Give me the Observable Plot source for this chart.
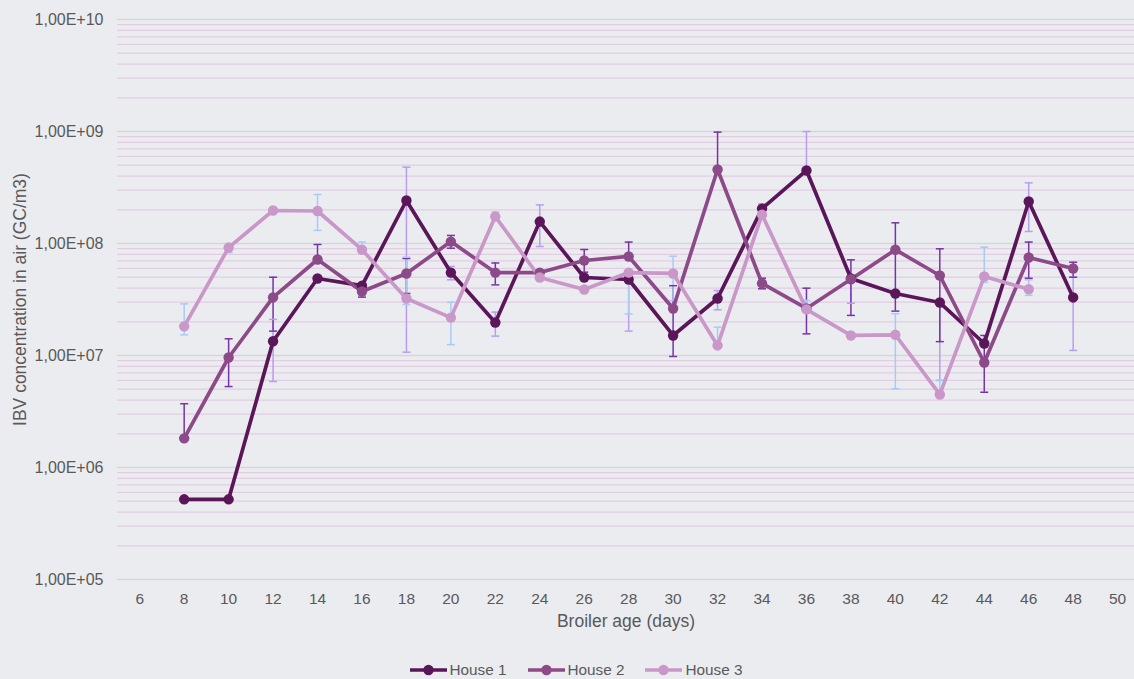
<!DOCTYPE html>
<html>
<head>
<meta charset="utf-8">
<script src="https://cdn.jsdelivr.net/npm/d3@7"></script>
<script src="https://cdn.jsdelivr.net/npm/@observablehq/plot@0.6"></script>
<style>
  html, body { margin: 0; padding: 0; background: #ebecf0; }
  body { width: 1134px; height: 679px; overflow: hidden; font-family: "Liberation Sans", Arial, sans-serif; }
  #chart svg { display: block; }
  #legend { display: flex; justify-content: center; align-items: center; height: 30px; padding-left: 18px; font-size: 15.3px; color: #595959; }
  .item { display: flex; align-items: center; margin-right: 21px; }
  .item:last-child { margin-right: 0; }
  .item svg { margin-right: 3px; display: block; }
</style>
</head>
<body>
<div id="chart"></div>
<div id="legend"></div>
<script>
// ---- Data ----
const days = [8, 10, 12, 14, 16, 18, 20, 22, 24, 26, 28, 30, 32, 34, 36, 38, 40, 42, 44, 46, 48];
const seriesNames = ["House 1", "House 2", "House 3"];
const seriesColors = ["#5a1658", "#8c4a88", "#c998c9"];
const errorColors = ["#b89df0", "#7634a6", "#a9caf7"];

const house1 = [5.2e5, 5.2e5, 1.34e7, 4.87e7, 4.2e7, 2.42e8, 5.5e7, 1.97e7, 1.57e8, 4.97e7, 4.77e7, 1.51e7, 3.23e7, 2.05e8, 4.49e8, 4.87e7, 3.58e7, 2.97e7, 1.28e7, 2.37e8, 3.3e7];
const house2 = [1.82e6, 9.6e6, 3.3e7, 7.2e7, 3.73e7, 5.4e7, 1.04e8, 5.5e7, 5.5e7, 7.05e7, 7.66e7, 2.63e7, 4.58e8, 4.4e7, 2.63e7, 4.8e7, 8.8e7, 5.18e7, 8.66e6, 7.5e7, 5.98e7];
const house3 = [1.82e7, 9.2e7, 1.97e8, 1.95e8, 8.8e7, 3.23e7, 2.18e7, 1.74e8, 4.97e7, 3.88e7, 5.5e7, 5.4e7, 1.23e7, 1.81e8, 2.58e7, 1.51e7, 1.53e7, 4.49e6, 5.07e7, 3.9e7, null];

// error bar ends (upper / lower); null = not visible
const house1Hi = [null, null, 2.1e7, null, null, 4.8e8, 6.24e7, 2.44e7, 2.21e8, null, 5.6e7, null, 3.8e7, 2.26e8, 1.0e9, null, null, null, null, 3.48e8, 5.0e7];
const house1Lo = [null, null, 5.86e6, null, null, 1.07e7, 4.74e7, 1.49e7, 9.4e7, null, 1.65e7, null, 2.56e7, null, null, 2.93e7, null, 6.0e6, null, 1.28e8, 1.11e7];
const house2Hi = [3.71e6, 1.41e7, 5.0e7, 9.8e7, null, 7.35e7, 1.18e8, 6.7e7, null, 8.84e7, 1.03e8, 4.2e7, 9.87e8, 4.9e7, 3.99e7, 7.15e7, 1.53e8, 8.97e7, 1.51e7, 1.03e8, 6.8e7];
const house2Lo = [null, 5.28e6, 1.65e7, null, 3.32e7, 3.58e7, 9.08e7, 4.27e7, null, 5.55e7, null, 9.8e6, null, 3.94e7, 1.56e7, 2.28e7, 2.49e7, 1.33e7, 4.7e6, 4.9e7, 5.0e7];
const house3Hi = [2.89e7, null, null, 2.74e8, 1.03e8, 7.55e7, 2.99e7, 1.91e8, null, null, null, 7.7e7, 1.79e7, null, 3.1e7, null, 2.36e7, 5.98e6, 9.27e7, 4.74e7, null];
const house3Lo = [1.53e7, 8.3e7, null, 1.31e8, null, 2.85e7, 1.25e7, null, null, null, 2.35e7, 3.1e7, null, null, null, null, 5.05e6, null, 4.5e7, 3.44e7, null];

const xTicks = [6, 8, 10, 12, 14, 16, 18, 20, 22, 24, 26, 28, 30, 32, 34, 36, 38, 40, 42, 44, 46, 48, 50];
const yDecades = [1e5, 1e6, 1e7, 1e8, 1e9, 1e10];

// ---- Build tables ----
const values = [house1, house2, house3];
const his = [house1Hi, house2Hi, house3Hi];
const los = [house1Lo, house2Lo, house3Lo];

const points = [];
const errs = [];
const caps = [];
seriesNames.forEach((name, s) => {
  days.forEach((day, i) => {
    const v = values[s][i];
    if (v == null) return;
    points.push({day, value: v, series: name});
    const hi = his[s][i], lo = los[s][i];
    if (hi != null || lo != null) {
      errs.push({day, y1: lo != null ? lo : v, y2: hi != null ? hi : v, color: errorColors[s]});
      if (hi != null) caps.push({day, y: hi, color: errorColors[s]});
      if (lo != null) caps.push({day, y: lo, color: errorColors[s]});
    }
  });
});

const minorTicks = [];
for (let e = 5; e < 10; e++) for (let k = 2; k <= 9; k++) minorTicks.push(k * Math.pow(10, e));

const capSymbol = {
  draw(context, size) {
    context.moveTo(-4, 0);
    context.lineTo(4, 0);
  }
};

const fmt = d => "1,00E+" + String(Math.round(Math.log10(d))).padStart(2, "0");

const chart = Plot.plot({
  width: 1134,
  height: 655,
  marginLeft: 117,
  marginRight: 0,
  marginTop: 19,
  marginBottom: 76,
  style: {background: "#ebecf0", fontFamily: "'Liberation Sans', Arial, sans-serif", color: "#595959"},
  x: {type: "linear", domain: [5, 50.76]},
  y: {type: "log", domain: [1e5, 1e10]},
  color: {domain: seriesNames, range: seriesColors},
  marks: [
    Plot.ruleY(minorTicks, {stroke: "#e3cde3", strokeWidth: 1.3}),
    Plot.ruleY(yDecades, {stroke: "#d6d6d8", strokeWidth: 1.3}),
    Plot.ruleX(errs, {x: "day", y1: "y1", y2: "y2", stroke: "color", strokeWidth: 1.5}),
    Plot.dot(caps, {x: "day", y: "y", stroke: "color", strokeWidth: 1.5, symbol: capSymbol, fill: "none"}),
    Plot.line(points, {x: "day", y: "value", z: "series", stroke: "series", strokeWidth: 3.7}),
    Plot.dot(points, {x: "day", y: "value", fill: "series", r: 5.2}),
    Plot.axisX(xTicks, {tickSize: 0, tickPadding: 13, fontSize: 15.5, fill: "#595959", label: null, tickFormat: d => String(d)}),
    Plot.axisY(yDecades, {tickSize: 0, tickPadding: 14, fontSize: 16, fill: "#595959", label: null, tickFormat: fmt}),
    Plot.text(["Broiler age (days)"], {frameAnchor: "bottom", dy: 47, fontSize: 17.5, fill: "#595959"}),
    Plot.text(["IBV concentration in air (GC/m3)"], {frameAnchor: "left", dx: -97, rotate: -90, textAnchor: "middle", fontSize: 17.5, fill: "#595959"})
  ]
});
document.getElementById("chart").appendChild(chart);

// ---- Legend ----
const legend = document.getElementById("legend");
seriesNames.forEach((name, s) => {
  const item = document.createElement("div");
  item.className = "item";
  item.innerHTML = `<svg width="37" height="12"><line x1="0" y1="6" x2="37" y2="6" stroke="${seriesColors[s]}" stroke-width="3.7"/><circle cx="18.5" cy="6" r="5.2" fill="${seriesColors[s]}"/></svg><span>${name}</span>`;
  legend.appendChild(item);
});
</script>
</body>
</html>
